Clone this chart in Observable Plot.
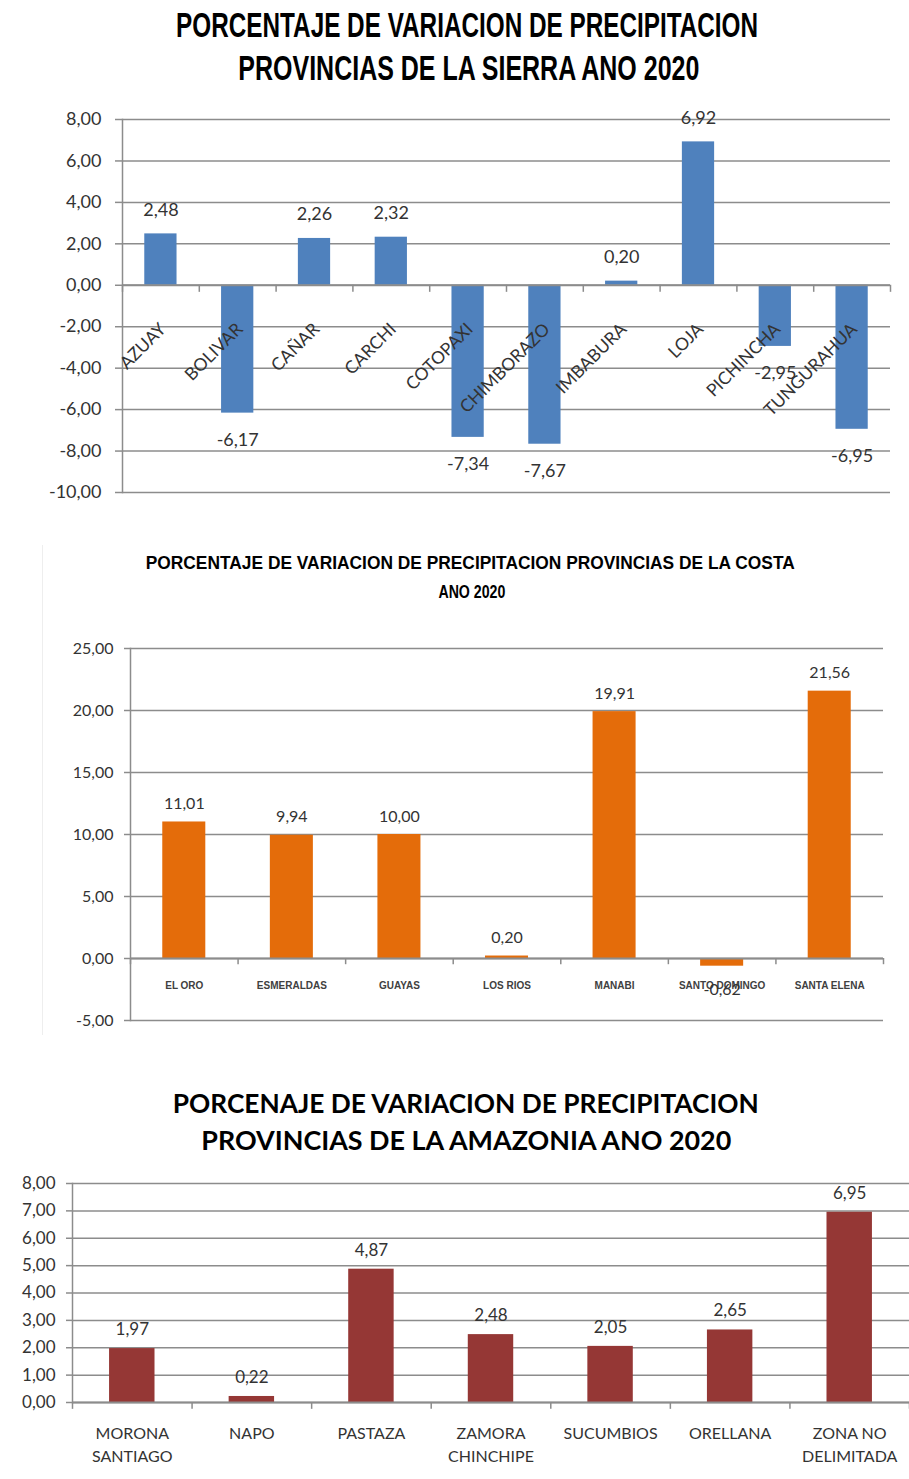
<!DOCTYPE html>
<html><head><meta charset="utf-8">
<script src="https://cdn.jsdelivr.net/npm/d3@7"></script>
<script src="https://cdn.jsdelivr.net/npm/@observablehq/plot@0.6"></script>
<style>
body{margin:0;background:#fff;}
#root{position:relative;width:909px;height:1479px;overflow:hidden;background:#fff;}
.t{position:absolute;white-space:nowrap;color:#000;transform-origin:center center;display:inline-block;}
.chart{position:absolute;left:0;}
.chart svg{overflow:visible;}
</style></head><body><div id="root"></div>
<script>
// ---------- DATA ----------
const sierraProvincias = ["AZUAY","BOLIVAR","CAÑAR","CARCHI","COTOPAXI","CHIMBORAZO","IMBABURA","LOJA","PICHINCHA","TUNGURAHUA"];
const sierraValores = [2.48,-6.17,2.26,2.32,-7.34,-7.67,0.20,6.92,-2.95,-6.95];
const sierraTicks = [-10,-8,-6,-4,-2,0,2,4,6,8];

const costaProvincias = ["EL ORO","ESMERALDAS","GUAYAS","LOS RIOS","MANABI","SANTO DOMINGO","SANTA ELENA"];
const costaValores = [11.01,9.94,10.00,0.20,19.91,-0.62,21.56];
const costaTicks = [-5,0,5,10,15,20,25];

const amazoniaProvincias = ["MORONA\nSANTIAGO","NAPO","PASTAZA","ZAMORA\nCHINCHIPE","SUCUMBIOS","ORELLANA","ZONA NO\nDELIMITADA"];
const amazoniaValores = [1.97,0.22,4.87,2.48,2.05,2.65,6.95];
const amazoniaTicks = [0,1,2,3,4,5,6,7,8];

const titulos = {
  sierra: ["PORCENTAJE DE VARIACION DE PRECIPITACION", "PROVINCIAS DE LA SIERRA ANO 2020"],
  costa: ["PORCENTAJE DE VARIACION DE PRECIPITACION PROVINCIAS DE LA COSTA", "ANO 2020"],
  amazonia: ["PORCENAJE DE VARIACION DE PRECIPITACION", "PROVINCIAS DE LA AMAZONIA ANO 2020"]
};

// ---------- HELPERS ----------
const root = document.getElementById("root");
const fmt = d => d.toFixed(2).replace(".", ",");
const GRID = "#8c8c8c";
const TXT = "#333";

function addTitle(text, cx, cy, fs, family, weight, target) {
  const el = document.createElement("div");
  el.className = "t";
  el.textContent = text;
  el.style.fontFamily = family;
  el.style.fontWeight = weight;
  el.style.fontSize = fs + "px";
  el.style.lineHeight = fs + "px";
  root.appendChild(el);
  const w = el.getBoundingClientRect().width;
  el.style.left = (cx - w / 2) + "px";
  el.style.top = (cy - 0.55 * fs) + "px";
  el.style.transform = `scaleX(${target / w})`;
}

function addChart(svg, top) {
  const d = document.createElement("div");
  d.className = "chart";
  d.style.top = top + "px";
  d.appendChild(svg);
  root.appendChild(d);
}

const boundaries = n => Array.from({length: n + 1}, (_, i) => i);

// ---------- CHART 1: SIERRA ----------
const sierra = sierraProvincias.map((name, i) => ({name, value: sierraValores[i], i}));
addTitle(titulos.sierra[0], 467, 26, 35, "'Liberation Sans Narrow', 'Liberation Sans', sans-serif", 700, 582);
addTitle(titulos.sierra[1], 469, 69, 35, "'Liberation Sans Narrow', 'Liberation Sans', sans-serif", 700, 461);

addChart(Plot.plot({
  width: 909, height: 400,
  marginTop: 19, marginBottom: 8, marginLeft: 122, marginRight: 19,
  style: {fontFamily: "Lato, sans-serif", background: "transparent", color: TXT},
  x: {domain: [0, sierra.length], axis: null},
  y: {domain: [-10, 8], axis: null},
  marks: [
    Plot.gridY(sierraTicks, {stroke: GRID, strokeOpacity: 1, strokeWidth: 1.5}),
    Plot.axisY(sierraTicks, {tickFormat: fmt, tickSize: 7, tickPadding: 14, fontSize: 18, color: TXT, stroke: GRID, strokeWidth: 1.5, label: null}),
    Plot.frame({anchor: "left", stroke: GRID, strokeWidth: 1.5}),
    Plot.rectY(sierra, {x1: d => d.i + 0.29, x2: d => d.i + 0.71, y1: 0, y2: "value", fill: "#4F81BD"}),
    Plot.ruleY([0], {stroke: GRID, strokeWidth: 2}),
    Plot.ruleX(boundaries(sierra.length), {x: d => d, y1: 0, y2: -0.34, stroke: GRID, strokeWidth: 1.5}),
    Plot.text(sierra, {filter: d => d.value >= 0, x: d => d.i + 0.5, y: "value", text: d => fmt(d.value), dy: -24, fontSize: 18, fill: TXT}),
    Plot.text(sierra, {filter: d => d.value < 0, x: d => d.i + 0.5, y: "value", text: d => fmt(d.value), dy: 27, fontSize: 18, fill: TXT}),
    Plot.text(sierra, {x: d => d.i + 0.5, y: 0, text: "name", rotate: -45, textAnchor: "end", dx: 2, dy: 41, fontSize: 17.5, fill: TXT})
  ]
}), 100);

// ---------- CHART 2: COSTA ----------
const costa = costaProvincias.map((name, i) => ({name, value: costaValores[i], i}));
const side = document.createElement("div");
side.style.cssText = "position:absolute;left:42px;top:545px;width:0;height:490px;border-left:1px solid #eeeeee;";
root.appendChild(side);
addTitle(titulos.costa[0], 470, 563, 19, "'Liberation Sans Narrow', 'Liberation Sans', sans-serif", 700, 649);
addTitle(titulos.costa[1], 472, 592, 19, "'Liberation Sans Narrow', 'Liberation Sans', sans-serif", 700, 67);

addChart(Plot.plot({
  width: 909, height: 400,
  marginTop: 18, marginBottom: 10, marginLeft: 130, marginRight: 26,
  style: {fontFamily: "Lato, sans-serif", background: "transparent", color: TXT},
  x: {domain: [0, costa.length], axis: null},
  y: {domain: [-5, 25], axis: null},
  marks: [
    Plot.gridY(costaTicks, {stroke: GRID, strokeOpacity: 1, strokeWidth: 1.5}),
    Plot.axisY(costaTicks, {tickFormat: fmt, tickSize: 6, tickPadding: 11, fontSize: 16, color: TXT, stroke: GRID, strokeWidth: 1.5, label: null}),
    Plot.frame({anchor: "left", stroke: GRID, strokeWidth: 1.5}),
    Plot.rectY(costa, {x1: d => d.i + 0.3, x2: d => d.i + 0.7, y1: 0, y2: "value", fill: "#E46C0A"}),
    Plot.ruleY([0], {stroke: GRID, strokeWidth: 2}),
    Plot.ruleX(boundaries(costa.length), {x: d => d, y1: 0, y2: -0.5, stroke: GRID, strokeWidth: 1.5}),
    Plot.text(costa, {x: d => d.i + 0.5, y: 0, text: "name", dy: 27, fontSize: 10, fontWeight: 700, fontFamily: "'Liberation Sans Narrow', sans-serif", fill: "#404040"}),
    Plot.text(costa, {filter: d => d.value >= 0, x: d => d.i + 0.5, y: "value", text: d => fmt(d.value), dy: -18, fontSize: 16, fill: TXT}),
    Plot.text(costa, {filter: d => d.value < 0, x: d => d.i + 0.5, y: "value", text: d => fmt(d.value), dy: 24, fontSize: 16, fill: TXT})
  ]
}), 630);

// ---------- CHART 3: AMAZONIA ----------
const amazonia = amazoniaProvincias.map((name, i) => ({name, value: amazoniaValores[i], i}));
addTitle(titulos.amazonia[0], 466, 1104, 26, "Lato, sans-serif", 700, 586);
addTitle(titulos.amazonia[1], 466, 1141, 26, "Lato, sans-serif", 700, 530);

addChart(Plot.plot({
  width: 909, height: 309,
  marginTop: 13, marginBottom: 77, marginLeft: 72, marginRight: 0,
  style: {fontFamily: "Lato, sans-serif", background: "transparent", color: TXT},
  x: {domain: [0, amazonia.length], axis: null},
  y: {domain: [0, 8], axis: null},
  marks: [
    Plot.gridY(amazoniaTicks, {stroke: GRID, strokeOpacity: 1, strokeWidth: 1.5}),
    Plot.axisY(amazoniaTicks, {tickFormat: fmt, tickSize: 6, tickPadding: 11, fontSize: 17, color: TXT, stroke: GRID, strokeWidth: 1.5, label: null}),
    Plot.frame({anchor: "left", stroke: GRID, strokeWidth: 1.5}),
    Plot.rectY(amazonia, {x1: d => d.i + 0.31, x2: d => d.i + 0.69, y1: 0, y2: "value", fill: "#953735"}),
    Plot.ruleY([0], {stroke: GRID, strokeWidth: 2}),
    Plot.ruleX(boundaries(amazonia.length), {x: d => d, y1: 0, y2: -0.25, stroke: GRID, strokeWidth: 1.5}),
    Plot.text(amazonia, {x: d => d.i + 0.5, y: 0, text: "name", lineAnchor: "top", lineHeight: 1.45, dy: 20, fontSize: 16, fill: TXT}),
    Plot.text(amazonia, {x: d => d.i + 0.5, y: "value", text: d => fmt(d.value), dy: -19, fontSize: 17, fill: TXT})
  ]
}), 1170);
</script></body></html>
